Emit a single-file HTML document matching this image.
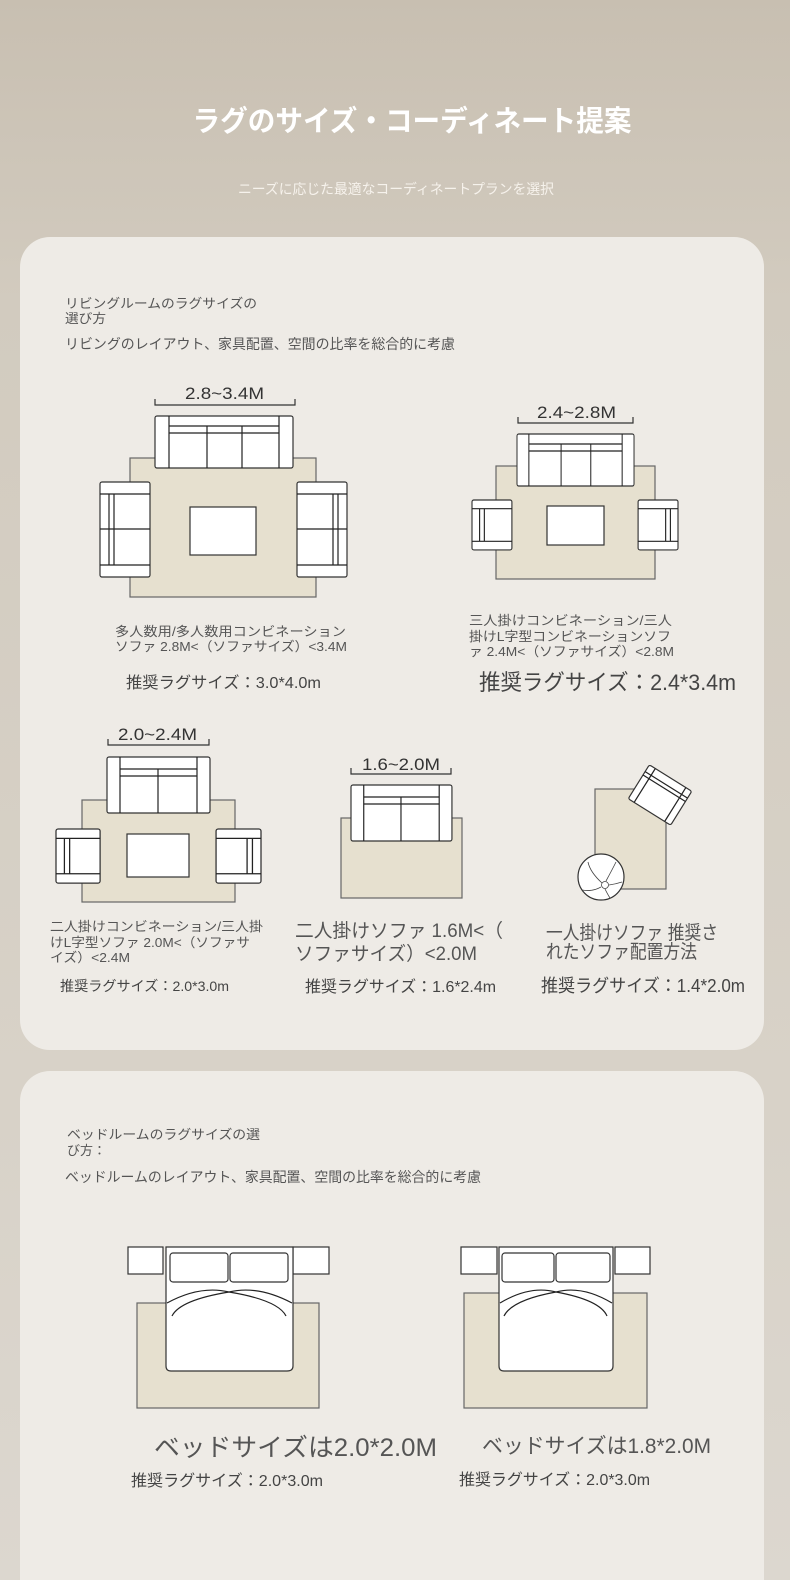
<!DOCTYPE html>
<html><head><meta charset="utf-8"><style>
html,body{margin:0;padding:0;width:790px;height:1580px;overflow:hidden}
body{background:linear-gradient(#c8bfb1,#d2cbbf 300px,#d8d2c8 1100px,#dcd7cf);}
svg{display:block}
text{font-family:"Liberation Sans","Noto Sans CJK JP",sans-serif;fill:#555}
</style></head><body>
<svg width="790" height="1580" viewBox="0 0 790 1580" xmlns="http://www.w3.org/2000/svg">
<defs>
<g id="s3">
 <rect x="0" y="0" width="138" height="52" rx="2" fill="#fff" stroke="#333" stroke-width="1.2"/>
 <line x1="14" y1="0" x2="14" y2="52" stroke="#222" stroke-width="1.2"/>
 <line x1="124" y1="0" x2="124" y2="52" stroke="#222" stroke-width="1.2"/>
 <line x1="14" y1="10" x2="124" y2="10" stroke="#222" stroke-width="1.2"/>
 <line x1="14" y1="17" x2="124" y2="17" stroke="#222" stroke-width="1.2"/>
 <line x1="52" y1="10" x2="52" y2="52" stroke="#222" stroke-width="1.2"/>
 <line x1="87" y1="10" x2="87" y2="52" stroke="#222" stroke-width="1.2"/>
</g>
<g id="s2">
 <rect x="0" y="0" width="103" height="56" rx="2" fill="#fff" stroke="#333" stroke-width="1.2"/>
 <line x1="13" y1="0" x2="13" y2="56" stroke="#222" stroke-width="1.2"/>
 <line x1="90" y1="0" x2="90" y2="56" stroke="#222" stroke-width="1.2"/>
 <line x1="13" y1="12" x2="90" y2="12" stroke="#222" stroke-width="1.2"/>
 <line x1="13" y1="19" x2="90" y2="19" stroke="#222" stroke-width="1.2"/>
 <line x1="51" y1="12" x2="51" y2="56" stroke="#222" stroke-width="1.2"/>
</g>
<!-- chair vertical, back on left -->
<g id="cv2">
 <rect x="0" y="0" width="50" height="95" rx="2" fill="#fff" stroke="#333" stroke-width="1.2"/>
 <line x1="0" y1="12" x2="50" y2="12" stroke="#222" stroke-width="1.2"/>
 <line x1="0" y1="83" x2="50" y2="83" stroke="#222" stroke-width="1.2"/>
 <line x1="9" y1="12" x2="9" y2="83" stroke="#222" stroke-width="1.2"/>
 <line x1="14" y1="12" x2="14" y2="83" stroke="#222" stroke-width="1.2"/>
 <line x1="0" y1="47" x2="50" y2="47" stroke="#222" stroke-width="1.2"/>
</g>
<g id="cv1">
 <rect x="0" y="0" width="42" height="52" rx="2" fill="#fff" stroke="#333" stroke-width="1.2"/>
 <line x1="0" y1="9" x2="42" y2="9" stroke="#222" stroke-width="1.2"/>
 <line x1="0" y1="43" x2="42" y2="43" stroke="#222" stroke-width="1.2"/>
 <line x1="8" y1="9" x2="8" y2="43" stroke="#222" stroke-width="1.2"/>
 <line x1="13" y1="9" x2="13" y2="43" stroke="#222" stroke-width="1.2"/>
</g>
<g id="bed">
 <rect x="0" y="0" width="36" height="27" fill="#fff" stroke="#333" stroke-width="1.2"/>
 <rect x="165" y="0" width="36" height="27" fill="#fff" stroke="#333" stroke-width="1.2"/>
</g>
</defs>

<text x="412" y="131" font-size="29" font-weight="bold" style="fill:#fff" text-anchor="middle" textLength="439" lengthAdjust="spacingAndGlyphs">ラグのサイズ・コーディネート提案</text>
<text x="396" y="194" font-size="14" style="fill:#f6f2ec" text-anchor="middle" textLength="316" lengthAdjust="spacingAndGlyphs">ニーズに応じた最適なコーディネートプランを選択</text>

<rect x="20" y="237" width="744" height="813" rx="30" fill="#eeebe6"/>
<rect x="20" y="1071" width="744" height="560" rx="30" fill="#eeebe6"/>

<text x="65" y="308" font-size="13" textLength="192" lengthAdjust="spacingAndGlyphs">リビングルームのラグサイズの</text>
<text x="65" y="323" font-size="13" textLength="41" lengthAdjust="spacingAndGlyphs">選び方</text>
<text x="65" y="349" font-size="14" textLength="390" lengthAdjust="spacingAndGlyphs">リビングのレイアウト、家具配置、空間の比率を総合的に考慮</text>

<!-- D1 -->
<text x="185" y="399" font-size="17" style="fill:#333" textLength="79" lengthAdjust="spacingAndGlyphs">2.8~3.4M</text>
<path d="M155 399 V405 H295 V399" fill="none" stroke="#333" stroke-width="1.2"/>
<rect x="130" y="458" width="186" height="139" fill="#e6e0cf" stroke="#666" stroke-width="1.2"/>
<use href="#s3" transform="translate(155,416)"/>
<use href="#cv2" transform="translate(100,482)"/>
<use href="#cv2" transform="translate(347,482) scale(-1,1)"/>
<rect x="190" y="507" width="66" height="48" fill="#fff" stroke="#333" stroke-width="1.2"/>
<text x="115" y="636" font-size="13" textLength="231" lengthAdjust="spacingAndGlyphs">多人数用/多人数用コンビネーション</text>
<text x="115" y="651" font-size="13" textLength="232" lengthAdjust="spacingAndGlyphs">ソファ 2.8M&lt;（ソファサイズ）&lt;3.4M</text>
<text x="126" y="688" font-size="16" style="fill:#444" textLength="195" lengthAdjust="spacingAndGlyphs">推奨ラグサイズ：3.0*4.0m</text>

<!-- D2 -->
<text x="537" y="418" font-size="17" style="fill:#333" textLength="79" lengthAdjust="spacingAndGlyphs">2.4~2.8M</text>
<path d="M518 417 V423 H633 V417" fill="none" stroke="#333" stroke-width="1.2"/>
<rect x="496" y="466" width="159" height="113" fill="#e6e0cf" stroke="#666" stroke-width="1.2"/>
<use href="#s3" transform="translate(517,434) scale(0.848,1)"/>
<use href="#cv1" transform="translate(472,500) scale(0.95,0.96)"/>
<use href="#cv1" transform="translate(678,500) scale(-0.95,0.96)"/>
<rect x="547" y="506" width="57" height="39" fill="#fff" stroke="#333" stroke-width="1.2"/>
<text x="469" y="625" font-size="13" textLength="203" lengthAdjust="spacingAndGlyphs">三人掛けコンビネーション/三人</text>
<text x="469" y="641" font-size="13" textLength="202" lengthAdjust="spacingAndGlyphs">掛けL字型コンビネーションソフ</text>
<text x="469" y="656" font-size="13" textLength="205" lengthAdjust="spacingAndGlyphs">ァ 2.4M&lt;（ソファサイズ）&lt;2.8M</text>
<text x="479" y="690" font-size="22" style="fill:#444" textLength="257" lengthAdjust="spacingAndGlyphs">推奨ラグサイズ：2.4*3.4m</text>

<!-- D3 -->
<text x="118" y="740" font-size="17" style="fill:#333" textLength="79" lengthAdjust="spacingAndGlyphs">2.0~2.4M</text>
<path d="M108 739 V745 H209 V739" fill="none" stroke="#333" stroke-width="1.2"/>
<rect x="82" y="800" width="153" height="102" fill="#e6e0cf" stroke="#666" stroke-width="1.2"/>
<use href="#s2" transform="translate(107,757)"/>
<use href="#cv1" transform="translate(56,829) scale(1.05,1.04)"/>
<use href="#cv1" transform="translate(261,829) scale(-1.07,1.04)"/>
<rect x="127" y="834" width="62" height="43" fill="#fff" stroke="#333" stroke-width="1.2"/>
<text x="50" y="931" font-size="13" textLength="213" lengthAdjust="spacingAndGlyphs">二人掛けコンビネーション/三人掛</text>
<text x="50" y="947" font-size="13" textLength="200" lengthAdjust="spacingAndGlyphs">けL字型ソファ 2.0M&lt;（ソファサ</text>
<text x="50" y="962" font-size="13" textLength="80" lengthAdjust="spacingAndGlyphs">イズ）&lt;2.4M</text>
<text x="60" y="991" font-size="14" style="fill:#444" textLength="169" lengthAdjust="spacingAndGlyphs">推奨ラグサイズ：2.0*3.0m</text>

<!-- D4 -->
<text x="362" y="770" font-size="17" style="fill:#333" textLength="78" lengthAdjust="spacingAndGlyphs">1.6~2.0M</text>
<path d="M351 768 V774 H451 V768" fill="none" stroke="#333" stroke-width="1.2"/>
<rect x="341" y="818" width="121" height="80" fill="#e6e0cf" stroke="#666" stroke-width="1.2"/>
<use href="#s2" transform="translate(351,785) scale(0.98,1)"/>
<text x="295" y="937" font-size="19" textLength="208" lengthAdjust="spacingAndGlyphs">二人掛けソファ 1.6M&lt;（</text>
<text x="295" y="960" font-size="19" textLength="182" lengthAdjust="spacingAndGlyphs">ソファサイズ）&lt;2.0M</text>
<text x="305" y="992" font-size="16" style="fill:#444" textLength="191" lengthAdjust="spacingAndGlyphs">推奨ラグサイズ：1.6*2.4m</text>

<!-- D5 -->
<rect x="595" y="789" width="71" height="100" fill="#e6e0cf" stroke="#666" stroke-width="1.2"/>
<g transform="translate(660,795) rotate(32)">
 <rect x="-25" y="-20" width="50" height="40" rx="2" fill="#fff" stroke="#333" stroke-width="1.2"/>
 <line x1="-25" y1="-12" x2="25" y2="-12" stroke="#222" stroke-width="1.2"/>
 <line x1="-25" y1="-8" x2="25" y2="-8" stroke="#222" stroke-width="1.2"/>
 <line x1="-18" y1="-20" x2="-18" y2="20" stroke="#222" stroke-width="1.2"/>
 <line x1="18" y1="-20" x2="18" y2="20" stroke="#222" stroke-width="1.2"/>
</g>
<circle cx="601" cy="877" r="23" fill="#fff" stroke="#333" stroke-width="1.2"/>
<circle cx="605" cy="885" r="3.5" fill="#fff" stroke="#444" stroke-width="0.8"/>
<path d="M602 883 Q590 872 588 862 M606 881 Q612 870 616 862 M609 885 Q616 884 622 882 M605 889 Q608 895 610 898 M601 887 Q592 892 582 890" fill="none" stroke="#444" stroke-width="0.8"/>
<text x="546" y="939" font-size="19" textLength="172" lengthAdjust="spacingAndGlyphs">一人掛けソファ 推奨さ</text>
<text x="546" y="958" font-size="19" textLength="151" lengthAdjust="spacingAndGlyphs">れたソファ配置方法</text>
<text x="541" y="992" font-size="18" style="fill:#444" textLength="204" lengthAdjust="spacingAndGlyphs">推奨ラグサイズ：1.4*2.0m</text>

<!-- Card 2 -->
<text x="67" y="1139" font-size="13" textLength="193" lengthAdjust="spacingAndGlyphs">ベッドルームのラグサイズの選</text>
<text x="67" y="1155" font-size="13" textLength="39" lengthAdjust="spacingAndGlyphs">び方：</text>
<text x="65" y="1182" font-size="14" textLength="416" lengthAdjust="spacingAndGlyphs">ベッドルームのレイアウト、家具配置、空間の比率を総合的に考慮</text>

<!-- bed 1 -->
<rect x="137" y="1303" width="182" height="105" fill="#e6e0cf" stroke="#666" stroke-width="1.2"/>
<rect x="128" y="1247" width="35" height="27" fill="#fff" stroke="#333" stroke-width="1.2"/>
<rect x="293" y="1247" width="36" height="27" fill="#fff" stroke="#333" stroke-width="1.2"/>
<path d="M166 1257 V1247 H293 V1257" fill="#fff" stroke="#333" stroke-width="1.2"/>
<rect x="166" y="1257" width="127" height="104" fill="#fff" stroke="none"/>
<path d="M166 1257 V1366 Q166 1371 171 1371 H287 Q293 1371 293 1366 V1257" fill="#fff" stroke="#333" stroke-width="1.2"/>
<rect x="170" y="1253" width="58" height="29" rx="3" fill="#fff" stroke="#333" stroke-width="1.2"/>
<rect x="230" y="1253" width="58" height="29" rx="3" fill="#fff" stroke="#333" stroke-width="1.2"/>
<path d="M167 1303 Q200 1285 229 1292 Q258 1285 292 1303 M172 1316 Q180 1300 229 1292 Q278 1300 286 1316" fill="none" stroke="#222" stroke-width="1.2"/>
<!-- bed 2 -->
<rect x="464" y="1293" width="183" height="115" fill="#e6e0cf" stroke="#666" stroke-width="1.2"/>
<rect x="461" y="1247" width="36" height="27" fill="#fff" stroke="#333" stroke-width="1.2"/>
<rect x="615" y="1247" width="35" height="27" fill="#fff" stroke="#333" stroke-width="1.2"/>
<path d="M499 1257 V1247 H613 V1257" fill="#fff" stroke="#333" stroke-width="1.2"/>
<path d="M499 1257 V1366 Q499 1371 504 1371 H608 Q613 1371 613 1366 V1257" fill="#fff" stroke="#333" stroke-width="1.2"/>
<rect x="502" y="1253" width="52" height="29" rx="3" fill="#fff" stroke="#333" stroke-width="1.2"/>
<rect x="556" y="1253" width="54" height="29" rx="3" fill="#fff" stroke="#333" stroke-width="1.2"/>
<path d="M500 1303 Q530 1285 556 1292 Q582 1285 612 1303 M504 1316 Q512 1300 556 1292 Q600 1300 607 1316" fill="none" stroke="#222" stroke-width="1.2"/>

<text x="154" y="1456" font-size="25" style="fill:#555" textLength="283" lengthAdjust="spacingAndGlyphs">ベッドサイズは2.0*2.0M</text>
<text x="131" y="1486" font-size="16" style="fill:#444" textLength="192" lengthAdjust="spacingAndGlyphs">推奨ラグサイズ：2.0*3.0m</text>
<text x="482" y="1453" font-size="21" style="fill:#555" textLength="229" lengthAdjust="spacingAndGlyphs">ベッドサイズは1.8*2.0M</text>
<text x="459" y="1485" font-size="16" style="fill:#444" textLength="191" lengthAdjust="spacingAndGlyphs">推奨ラグサイズ：2.0*3.0m</text>
</svg>
</body></html>
